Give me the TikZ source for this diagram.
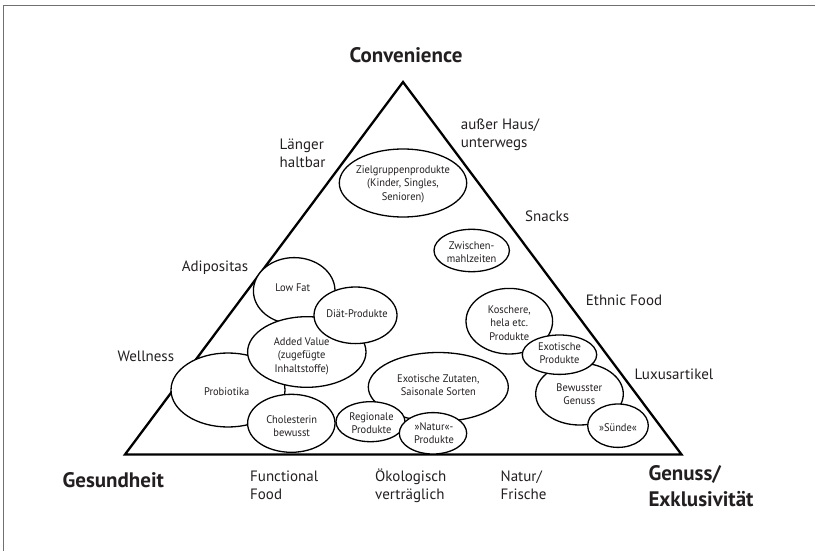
\documentclass[tikz,border=0pt]{standalone}
\usepackage{fontspec}
\setmainfont{PT Sans}
\newfontfamily\condfont[FakeStretch=0.95]{PT Sans}
\usetikzlibrary{shapes.geometric}
\definecolor{ink}{HTML}{231F20}
\definecolor{framegray}{HTML}{707070}
\begin{document}
\begin{tikzpicture}[x=1pt,y=-1pt,
  blob/.style={ellipse, draw=black, fill=white, line width=1.3pt, inner sep=0pt},
  blobtext/.style={font=\condfont\fontsize{11}{13.5}\selectfont, align=center, text=ink, inner sep=0pt},
  side/.style={font=\fontsize{15}{18}\selectfont, align=left, anchor=west, inner sep=0pt, text=ink},
  pole/.style={font=\bfseries\fontsize{21}{26}\selectfont, align=left, inner sep=0pt, text=ink}]
\useasboundingbox (0,0) rectangle (815,551);
% frame
\draw[framegray, line width=1.8pt] (3.5,551) -- (3.5,5.5) -- (815,5.5);
% triangle
\coordinate (apex) at (403,82);
\coordinate (bl) at (125,454.5);
\coordinate (br) at (681.5,454.5);
\draw[black, line width=2.3pt, line join=miter] (apex) -- (bl) -- (br) -- cycle;
% ellipses (outlines, in stacking order)
\node[blob, minimum width=127.4pt, minimum height=68pt] (zg) at (403,183) {};
\node[blob, minimum width=75.4pt, minimum height=42.4pt] (zw) at (471.7,250.5) {};
\node[blob, minimum width=114pt, minimum height=74pt] (pr) at (228,390) {};
\node[blob, minimum width=81.6pt, minimum height=66.4pt] (lf) at (294.2,290.8) {};
\node[blob, minimum width=118.4pt, minimum height=70.6pt] (av) at (306.8,352) {};
\node[blob, minimum width=83pt, minimum height=56.6pt] (di) at (355.5,315.3) {};
\node[blob, minimum width=87.4pt, minimum height=58pt] (ch) at (291.3,423.3) {};
\node[blob, minimum width=140pt, minimum height=69pt] (ez) at (438.3,387) {};
\node[blob, minimum width=69pt, minimum height=40pt] (rg) at (370.5,421.7) {};
\node[blob, minimum width=67.4pt, minimum height=41.4pt] (nt) at (433,433.3) {};
\node[blob, minimum width=86.6pt, minimum height=65.6pt] (ks) at (509.3,321.2) {};
\node[blob, minimum width=87.6pt, minimum height=62pt] (bg) at (579.5,394) {};
\node[blob, minimum width=74.4pt, minimum height=39.4pt] (ep) at (559.5,354.7) {};
\node[blob, minimum width=60.6pt, minimum height=43.4pt] (sd) at (618,425.7) {};
% ellipse texts
\node[blobtext] (tzg) at (403,184) {Zielgruppenprodukte\\(Kinder, Singles,\\Senioren)};
\node[blobtext] (tzw) at (471.7,252) {Zwischen-\\mahlzeiten};
\node[blobtext] (tlf) at (292.7,287.7) {Low Fat};
\node[blobtext] (tdi) at (357,314) {Diät-Produkte};
\node[blobtext] (tav) at (301.7,356.2) {Added Value\\(zugefügte\\Inhaltstoffe)};
\node[blobtext] (tpr) at (226.7,391.7) {Probiotika};
\node[blobtext] (tch) at (291.7,426.3) {Cholesterin\\bewusst};
\node[blobtext] (tez) at (438.3,385.3) {Exotische Zutaten,\\Saisonale Sorten};
\node[blobtext] (trg) at (371.5,423) {Regionale\\Produkte};
\node[blobtext] (tnt) at (434,433) {»Natur«-\\Produkte};
\node[blobtext] (tks) at (509.3,323) {Koschere,\\hela etc.\\Produkte};
\node[blobtext] (tep) at (559.5,353.3) {Exotische\\Produkte};
\node[blobtext] (tbg) at (579.3,394.2) {Bewusster\\Genuss};
\node[blobtext] (tsd) at (618,427.3) {»Sünde«};
% side labels
\node[side] (l1) at (279.5,153.3) {Länger\\haltbar};
\node[side] (l2) at (460.7,135) {außer Haus/\\unterwegs};
\node[side] (l3) at (525,216.7) {Snacks};
\node[side] (l4) at (181.7,268) {Adipositas};
\node[side] (l5) at (585.7,300) {Ethnic Food};
\node[side] (l6) at (117.3,356.7) {Wellness};
\node[side] (l7) at (634.3,374) {Luxusartikel};
\node[side] (l8) at (250,485.5) {Functional\\Food};
\node[side] (l9) at (375,485.5) {Ökologisch\\verträglich};
\node[side] (l10) at (500.5,485.5) {Natur/\\Frische};
% poles
\node[pole, anchor=center] (conv) at (406,55) {Convenience};
\node[pole, anchor=west] (ges) at (62.4,480) {Gesundheit};
\node[pole, anchor=west] (gen) at (648.3,486.3) {Genuss/\\Exklusivität};
\end{tikzpicture}
\end{document}
